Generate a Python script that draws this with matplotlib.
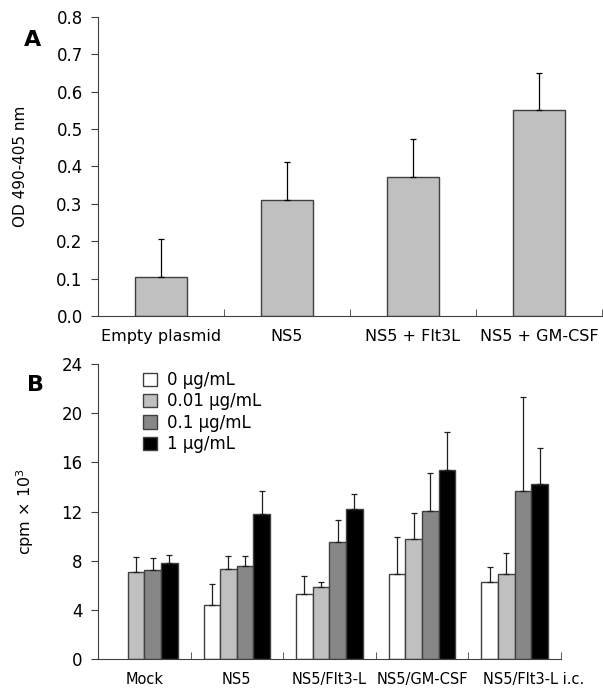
import numpy as np
import matplotlib.pyplot as plt
import matplotlib.transforms as mtransforms

# panel A data
groups_a = ['Empty plasmid', 'NS5', 'NS5 + Flt3L', 'NS5 + GM-CSF']
od_mean = [0.105, 0.311, 0.373, 0.551]
od_err = [0.100, 0.100, 0.100, 0.100]

# panel B data
groups_b = ['Mock', 'NS5', 'NS5/Flt3-L', 'NS5/GM-CSF', 'NS5/Flt3-L i.c.']
doses = ['0 μg/mL', '0.01 μg/mL', '0.1 μg/mL', '1 μg/mL']
cpm_0 = [0.0, 4.4, 5.3, 6.9, 6.25]
cpm_001 = [7.05, 7.3, 5.9, 9.8, 6.9]
cpm_01 = [7.25, 7.6, 9.5, 12.05, 13.7]
cpm_1 = [7.85, 11.8, 12.2, 15.4, 14.2]
err_0 = [0.0, 1.7, 1.45, 3.0, 1.2]
err_001 = [1.25, 1.05, 0.33, 2.1, 1.7]
err_01 = [0.95, 0.8, 1.85, 3.05, 7.65]
err_1 = [0.6, 1.85, 1.2, 3.1, 3.0]

dose_colors = ['white', '#c0c0c0', '#878787', 'black']
edge = '#404040'

plt.rcParams['font.family'] = 'DejaVu Sans'
plt.rcParams['font.size'] = 11.5

fig = plt.figure(figsize=(6.03, 6.93), dpi=100)

# ---- A ----
axa = fig.add_axes([0.1625, 0.544, 0.998 - 0.1625, 0.9755 - 0.544])
xa = np.arange(len(groups_a))
axa.bar(xa, od_mean, width=0.41, color='#c0c0c0', edgecolor=edge, linewidth=1, zorder=2)
axa.errorbar(xa, od_mean, yerr=[np.zeros(len(od_err)), od_err], fmt='none',
             ecolor='black', elinewidth=0.9, capsize=2, capthick=0.9, zorder=3)
axa.set_xlim(-0.5, len(groups_a) - 0.5)
axa.set_ylim(0, 0.8)
axa.set_yticks(np.arange(0, 0.81, 0.1))
axa.set_yticklabels(['%.1f' % v for v in np.arange(0, 0.81, 0.1)], fontsize=12)
axa.set_xticks(xa)
axa.set_xticklabels(groups_a, fontsize=11.5)
axa.tick_params(axis='x', length=0, pad=9)
axa.set_xticks(np.arange(-0.5, len(groups_a)), minor=True)
axa.tick_params(axis='x', which='minor', direction='in', length=5, color=edge)
axa.tick_params(axis='y', direction='out', length=5, color=edge, pad=6)
axa.set_ylabel('OD 490-405 nm', fontsize=11)
axa.yaxis.set_label_coords(-0.139, 0.5)
for s in ['top', 'right']:
    axa.spines[s].set_visible(False)
for s in ['left', 'bottom']:
    axa.spines[s].set_color(edge)
fig.text(0.040, 0.942, 'A', fontsize=16, fontweight='bold', ha='left', va='center')

# ---- B ----
axb = fig.add_axes([0.1625, 0.049, 0.930 - 0.1625, 0.4747 - 0.049])
xb = np.arange(len(groups_b))
w = 0.18
series = [cpm_0, cpm_001, cpm_01, cpm_1]
errs = [err_0, err_001, err_01, err_1]
for i, (vals, er) in enumerate(zip(series, errs)):
    pos = xb + (i - 1.5) * w
    vals = np.array(vals)
    keep = vals > 0
    axb.bar(pos[keep], vals[keep], width=w, color=dose_colors[i], edgecolor=edge,
            linewidth=1, zorder=2)
    axb.errorbar(pos[keep], vals[keep], yerr=[np.zeros(keep.sum()), np.array(er)[keep]],
                 fmt='none', ecolor='#202020', elinewidth=0.9, capsize=2, capthick=0.9, zorder=3)
    axb.bar([0], [0], width=0, color=dose_colors[i], edgecolor=edge, label=doses[i])
axb.set_xlim(-0.5, len(groups_b) - 0.5)
axb.set_ylim(0, 24)
axb.set_yticks(np.arange(0, 25, 4))
axb.set_yticklabels([str(v) for v in range(0, 25, 4)], fontsize=12)
axb.set_xticks(xb)
axb.set_xticklabels(groups_b, fontsize=10.5)
axb.tick_params(axis='x', length=0, pad=9)
# the last label sits a little to the right in the original
lab = axb.get_xticklabels()[-1]
lab.set_transform(lab.get_transform() +
                  mtransforms.ScaledTranslation(0.19, 0, fig.dpi_scale_trans))
axb.set_xticks(np.arange(-0.5, len(groups_b)), minor=True)
axb.tick_params(axis='x', which='minor', direction='in', length=5, color=edge)
axb.tick_params(axis='y', direction='out', length=5, color=edge, pad=6)
axb.set_ylabel('cpm × 10$^3$', fontsize=11.5)
axb.yaxis.set_label_coords(-0.134, 0.5)
for s in ['top', 'right']:
    axb.spines[s].set_visible(False)
for s in ['left', 'bottom']:
    axb.spines[s].set_color(edge)
axb.legend(loc='upper left', bbox_to_anchor=(0.065, 1.027), frameon=False,
           handlelength=0.85, handleheight=0.85, handletextpad=0.6, labelspacing=0.2,
           fontsize=12)
fig.text(0.044, 0.444, 'B', fontsize=16, fontweight='bold', ha='left', va='center')

fig.savefig('out.png', dpi=100)
